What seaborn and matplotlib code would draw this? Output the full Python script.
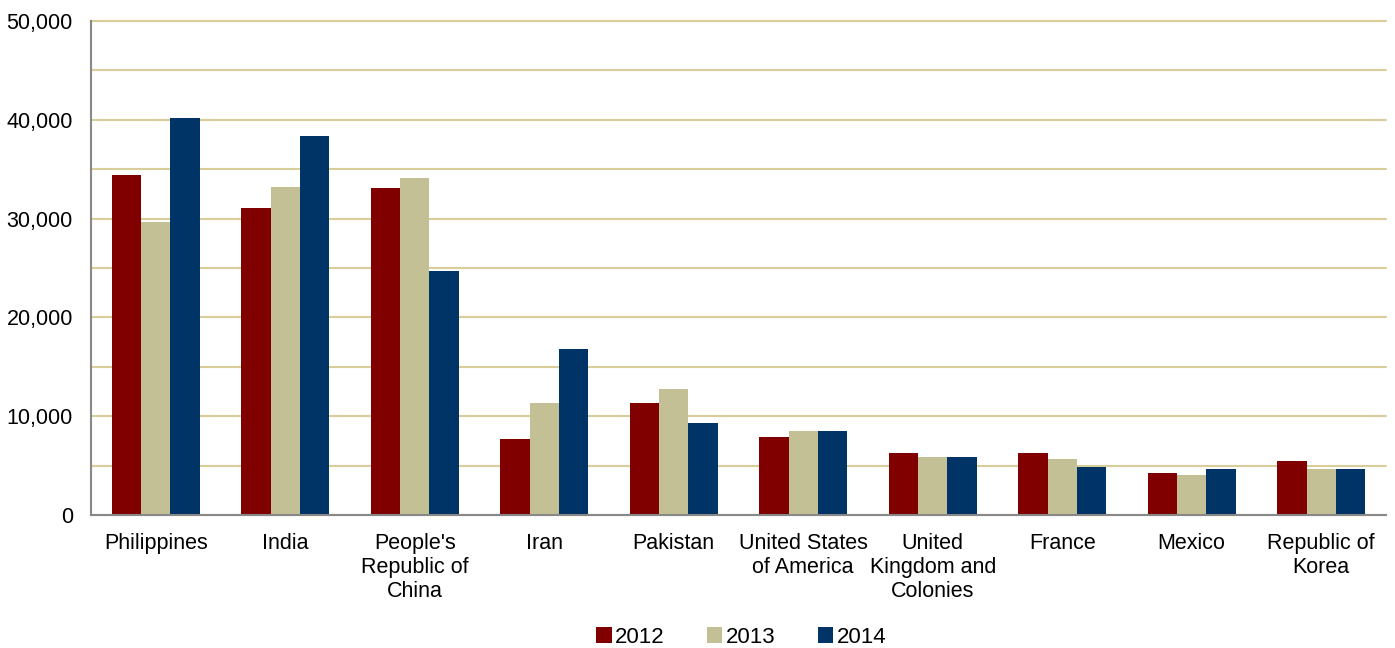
import matplotlib
matplotlib.use("Agg")
import matplotlib.pyplot as plt
import seaborn as sns
import pandas as pd
from matplotlib.ticker import FuncFormatter, MultipleLocator

countries = ["Philippines", "India", "People's\nRepublic of\nChina", "Iran", "Pakistan",
             "United States\nof America", "United\nKingdom and\nColonies", "France",
             "Mexico", "Republic of\nKorea"]
years = ["2012", "2013", "2014"]
v2012 = [34400, 31100, 33100, 7700, 11300, 7900, 6300, 6300, 4300, 5500]
v2013 = [29700, 33200, 34100, 11300, 12750, 8500, 5900, 5700, 4100, 4700]
v2014 = [40200, 38400, 24700, 16800, 9350, 8550, 5900, 4900, 4700, 4700]
colors = ["#800000", "#c4c096", "#003366"]

rows = []
for yr, vals in zip(years, [v2012, v2013, v2014]):
    for c, v in zip(countries, vals):
        rows.append({"country": c, "year": yr, "value": v})
df = pd.DataFrame(rows)

sns.set_style("white")
plt.rcParams["font.family"] = ["Liberation Sans", "DejaVu Sans"]
plt.rcParams["text.color"] = "black"
plt.rcParams["xtick.color"] = "black"
plt.rcParams["ytick.color"] = "black"

fig, ax = plt.subplots(figsize=(13.95, 6.48), dpi=100)
fig.subplots_adjust(left=0.0652, right=0.9935, top=0.9676, bottom=0.2052)

sns.barplot(data=df, x="country", y="value", hue="year", palette=colors,
            width=0.68, gap=0, saturation=1, edgecolor="none", ax=ax, legend=True)

ax.set_ylim(0, 50000)
ax.set_xlim(-0.5, len(countries) - 0.5)
ax.yaxis.set_major_locator(MultipleLocator(10000))
ax.yaxis.set_minor_locator(MultipleLocator(5000))
ax.yaxis.set_major_formatter(FuncFormatter(lambda v, p: f"{int(v):,}"))
ax.grid(axis="y", which="both", color="#d9cd9a", linewidth=1.5, clip_on=False)
ax.set_axisbelow(True)

ax.set_xticks(range(len(countries)))
ax.set_xticklabels(countries, fontsize=15.5, linespacing=1.2)
ax.set_xticks([i + 0.5 for i in range(len(countries) - 1)], minor=True)
ax.tick_params(axis="x", which="major", length=0, pad=13)
ax.tick_params(axis="x", which="minor", length=6, direction="in", color="#888888", width=1.5)
ax.tick_params(axis="y", which="both", length=0, pad=13, labelsize=15.5)
ax.set_xlabel("")
ax.set_ylabel("")

ax.spines["top"].set_visible(False)
ax.spines["right"].set_visible(False)
for s in ["left", "bottom"]:
    ax.spines[s].set_color("#888888")
    ax.spines[s].set_linewidth(1.5)

ax.legend(loc="center", bbox_to_anchor=(0.502, -0.247), ncol=3, frameon=False,
          fontsize=16, handlelength=0.7, handleheight=0.7, handletextpad=0.15,
          columnspacing=1.9, borderpad=0)

fig.savefig("out.png", dpi=100)
